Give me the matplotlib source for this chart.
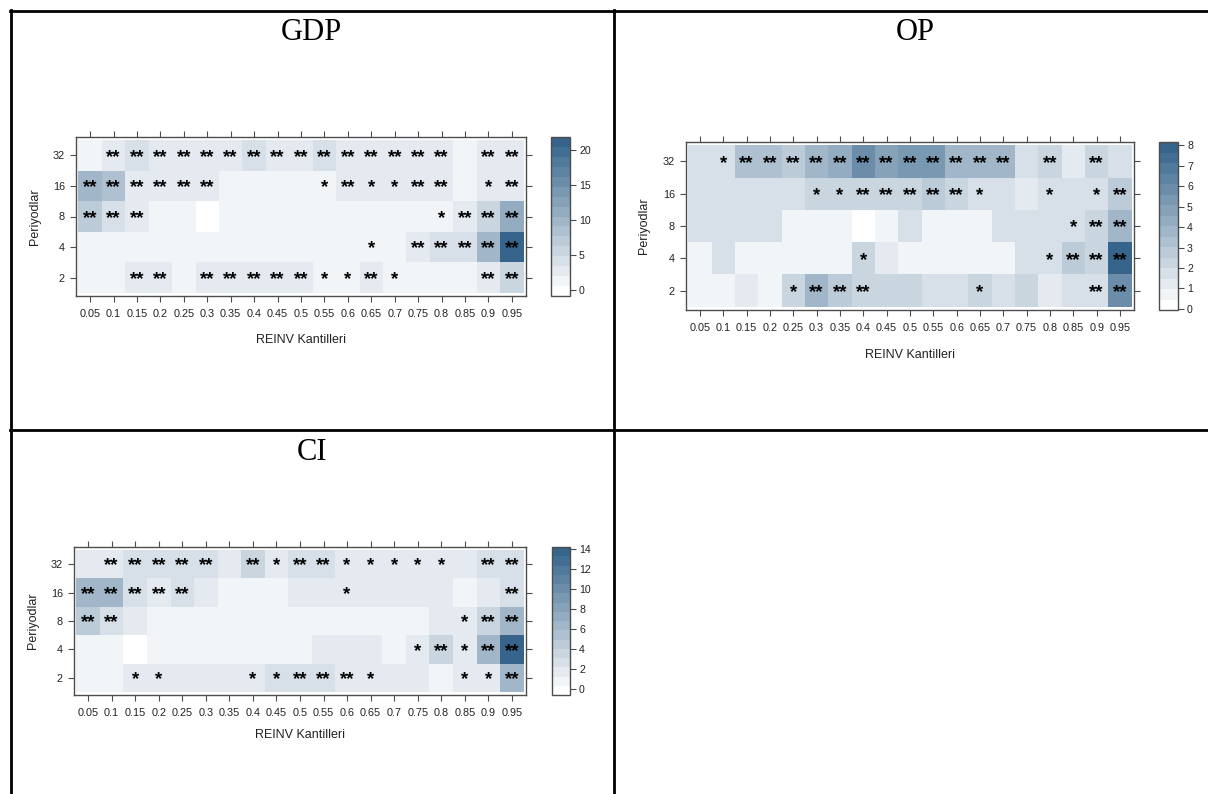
import numpy as np
import matplotlib
matplotlib.use("Agg")
import matplotlib.pyplot as plt
from matplotlib.colors import LinearSegmentedColormap, ListedColormap, BoundaryNorm

plt.rcParams['font.family'] = ['Liberation Sans', 'DejaVu Sans']

quantiles = ['0.05', '0.1', '0.15', '0.2', '0.25', '0.3', '0.35', '0.4', '0.45', '0.5',
             '0.55', '0.6', '0.65', '0.7', '0.75', '0.8', '0.85', '0.9', '0.95']
periods = ['32', '16', '8', '4', '2']   # top row first

# GDP - statistic per (period, quantile)
gdp_vals = [
    [1.3, 2.7, 4.2, 2.7, 2.7, 2.7, 2.7, 4.2, 2.7, 2.7, 4.2, 2.7, 2.7, 2.7, 2.7, 2.7, 1.3, 2.7, 2.7],
    [9.8, 8.4, 2.7, 2.7, 2.7, 2.7, 1.3, 1.3, 1.3, 1.3, 1.3, 2.7, 2.7, 2.7, 2.7, 2.7, 1.3, 2.7, 2.7],
    [7.0, 4.2, 2.7, 1.3, 1.3, 0.6, 1.3, 1.3, 1.3, 1.3, 1.3, 1.3, 1.3, 1.3, 1.3, 1.3, 2.7, 5.6, 11.2],
    [1.3, 1.3, 1.3, 1.3, 1.3, 1.3, 1.3, 1.3, 1.3, 1.3, 1.3, 1.3, 1.3, 1.3, 2.7, 4.2, 4.2, 9.8, 20.4],
    [1.3, 1.3, 2.7, 2.7, 1.3, 2.7, 2.7, 2.7, 2.7, 2.7, 1.3, 1.3, 2.7, 1.3, 1.3, 1.3, 1.3, 2.7, 5.6],
]
gdp_stars = [
    ['', '**', '**', '**', '**', '**', '**', '**', '**', '**', '**', '**', '**', '**', '**', '**', '', '**', '**'],
    ['**', '**', '**', '**', '**', '**', '', '', '', '', '*', '**', '*', '*', '**', '**', '', '*', '**'],
    ['**', '**', '**', '', '', '', '', '', '', '', '', '', '', '', '', '*', '**', '**', '**'],
    ['', '', '', '', '', '', '', '', '', '', '', '', '*', '', '**', '**', '**', '**', '**'],
    ['', '', '**', '**', '', '**', '**', '**', '**', '**', '*', '*', '**', '*', '', '', '', '**', '**'],
]

# OP
op_vals = [
    [1.74, 1.74, 3.29, 3.29, 2.77, 3.8, 4.31, 5.86, 4.83, 5.34, 5.34, 3.8, 3.8, 3.8, 1.74, 2.26, 1.23, 2.26, 1.74],
    [1.74, 1.74, 1.74, 1.74, 1.74, 2.26, 2.26, 2.26, 2.26, 2.26, 2.77, 2.26, 1.74, 1.74, 1.23, 1.74, 1.74, 1.74, 2.77],
    [1.74, 1.74, 1.74, 1.74, 0.72, 0.72, 0.72, 0.45, 0.72, 1.74, 0.72, 0.72, 0.72, 1.74, 1.74, 1.74, 1.74, 2.26, 3.8],
    [0.72, 1.74, 0.72, 0.72, 0.72, 0.72, 0.72, 2.26, 1.23, 0.72, 0.72, 0.72, 0.72, 0.72, 1.74, 1.74, 2.77, 2.26, 7.66],
    [0.72, 0.72, 1.23, 0.72, 2.26, 3.8, 2.77, 2.26, 2.26, 2.26, 1.74, 1.74, 2.26, 1.74, 2.26, 1.23, 1.74, 1.74, 5.7],
]
op_stars = [
    ['', '*', '**', '**', '**', '**', '**', '**', '**', '**', '**', '**', '**', '**', '', '**', '', '**', ''],
    ['', '', '', '', '', '*', '*', '**', '**', '**', '**', '**', '*', '', '', '*', '', '*', '**'],
    ['', '', '', '', '', '', '', '', '', '', '', '', '', '', '', '', '*', '**', '**'],
    ['', '', '', '', '', '', '', '*', '', '', '', '', '', '', '', '*', '**', '**', '**'],
    ['', '', '', '', '*', '**', '**', '**', '', '', '', '', '*', '', '', '', '', '**', '**'],
]

# CI
ci_vals = [
    [1.71, 1.71, 2.64, 2.64, 2.64, 2.64, 1.71, 3.56, 1.71, 2.64, 2.64, 1.71, 1.71, 1.71, 1.71, 1.71, 1.71, 2.64, 2.64],
    [6.34, 6.34, 2.64, 1.71, 2.64, 1.71, 0.79, 0.79, 0.79, 1.71, 1.71, 1.71, 1.71, 1.71, 1.71, 1.71, 0.79, 1.71, 2.64],
    [4.49, 2.64, 1.71, 0.79, 0.79, 0.79, 0.79, 0.79, 0.79, 0.79, 0.79, 0.79, 0.79, 0.79, 0.79, 1.71, 1.71, 3.56, 6.34],
    [0.79, 0.79, 0.31, 0.79, 0.79, 0.79, 0.79, 0.79, 0.79, 0.79, 1.71, 1.71, 1.71, 0.79, 1.71, 3.56, 1.71, 6.34, 13.29],
    [0.79, 0.79, 1.71, 1.71, 1.71, 1.71, 1.71, 1.71, 2.64, 2.64, 2.64, 1.71, 1.71, 1.71, 1.71, 0.79, 1.71, 1.71, 6.34],
]
ci_stars = [
    ['', '**', '**', '**', '**', '**', '', '**', '*', '**', '**', '*', '*', '*', '*', '*', '', '**', '**'],
    ['**', '**', '**', '**', '**', '', '', '', '', '', '', '*', '', '', '', '', '', '', '**'],
    ['**', '**', '', '', '', '', '', '', '', '', '', '', '', '', '', '', '*', '**', '**'],
    ['', '', '', '', '', '', '', '', '', '', '', '', '', '', '*', '**', '*', '**', '**'],
    ['', '', '*', '*', '', '', '', '*', '*', '**', '**', '**', '*', '', '', '', '*', '*', '**'],
]

W, H = 1208, 794
fig = plt.figure(figsize=(W / 100, H / 100), dpi=100)

def rect(x0, y0, x1, y1):
    return [x0 / W, 1 - y1 / H, (x1 - x0) / W, (y1 - y0) / H]

# white -> steelblue4, 16 bands like lattice levelplot
cmap = ListedColormap(LinearSegmentedColormap.from_list('sb', ['#FFFFFF', '#36648B'])(np.linspace(0, 1, 16)))
edge = '#4d4d4d'

# table grid
bg = fig.add_axes([0, 0, 1, 1])
bg.set_xlim(0, W)
bg.set_ylim(H, 0)
bg.axis('off')
lw = 2.0
bg.plot([10.5, 10.5], [10, H], color='black', lw=lw)
bg.plot([10, W], [11, 11], color='black', lw=lw)
bg.plot([614, 614], [10, H], color='black', lw=lw)
bg.plot([10, W], [430, 430], color='black', lw=lw)
for tx, ty, t in [(311, 32, 'GDP'), (915, 32, 'OP'), (312, 452, 'CI')]:
    bg.text(tx, ty, t, ha='center', va='center', fontsize=22, family='Liberation Serif')


def panel(frame, cbar, vals, stars, cticks, xoff, yoff):
    z = np.array(vals)[::-1]
    st = stars[::-1]
    r = z.max() - z.min()
    levels = np.linspace(z.min() - 0.07 * r, z.max() + 0.07 * r, 17)
    norm = BoundaryNorm(levels, cmap.N)
    ax = fig.add_axes(rect(*frame))
    m = ax.pcolormesh(np.arange(20) + 0.5, np.arange(6) - 0.5, z, cmap=cmap, norm=norm)
    for i in range(5):
        for j in range(19):
            if st[i][j]:
                ax.text(j + 1, i, st[i][j], ha='center', va='center_baseline',
                        fontsize=13.5, fontweight='bold', color='black')
    ax.set_xlim(0.4, 19.6)
    ax.set_ylim(-0.6, 4.6)
    ax.set_xticks(range(1, 20))
    ax.set_xticklabels(quantiles)
    ax.set_yticks(range(5))
    ax.set_yticklabels(periods[::-1])
    ax.tick_params(top=True, right=True, labeltop=False, labelright=False, direction='out',
                   length=4.5, width=0.8, color=edge, labelsize=7.8, labelcolor='#222222')
    ax.tick_params(axis='x', pad=5)
    ax.tick_params(axis='y', pad=3.5)
    for s in ax.spines.values():
        s.set_color(edge)
        s.set_linewidth(1.0)
    fh = frame[3] - frame[1]
    fw = frame[2] - frame[0]
    ax.set_xlabel('REINV Kantilleri', fontsize=9, color='#222222')
    ax.set_ylabel('Periyodlar', fontsize=9, color='#222222')
    ax.xaxis.set_label_coords(0.5, -xoff / fh)
    ax.yaxis.set_label_coords(-yoff / fw, 0.5)
    ax.xaxis.label.set_va('center')
    ax.yaxis.label.set_va('center')

    cax = fig.add_axes(rect(*cbar))
    cb = fig.colorbar(m, cax=cax, ticks=cticks)
    cb.minorticks_off()
    cb.outline.set_edgecolor(edge)
    cb.outline.set_linewidth(1.0)
    cax.tick_params(length=4, width=0.8, color=edge, labelsize=7.6, pad=2.5, labelcolor='#222222')


panel((76, 137, 526, 296), (551, 137, 570, 296), gdp_vals, gdp_stars, [0, 5, 10, 15, 20], 44, 41)
panel((686, 142, 1134, 310), (1159, 142, 1178, 310), op_vals, op_stars, list(range(0, 9)), 45, 42)
panel((74, 547, 526, 695), (552, 547, 570, 695), ci_vals, ci_stars, list(range(0, 15, 2)), 40, 41)

fig.savefig('out.png', dpi=100)
